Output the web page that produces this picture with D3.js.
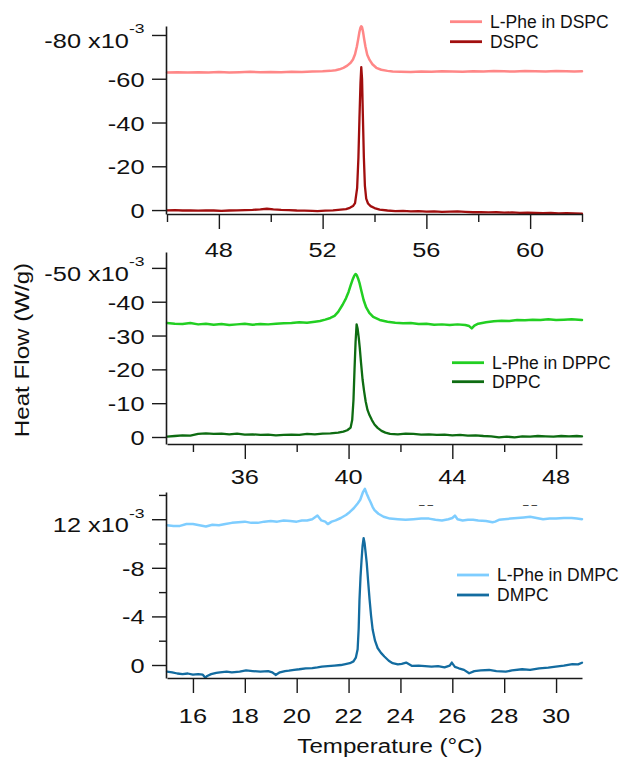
<!DOCTYPE html>
<html><head><meta charset="utf-8">
<script src="https://cdn.jsdelivr.net/npm/d3@7"></script>
<style>
body{margin:0;background:#fff}
svg{display:block;background:#fff}
text{font-family:"Liberation Sans",Arial,Helvetica,sans-serif;fill:#111}
</style>
</head><body><svg id="c" width="620" height="757"></svg>
<script>
// ---------------- DATA ----------------
// Top panel: DSPC (temperature °C, heat flow x10^-3 W/g)
const dspc = [[46.0,0.1],[46.3,0.0],[46.6,0.2],[46.9,0.1],[47.2,0.3],[47.5,0.1],[47.8,0.2],[48.1,0.4],[48.4,0.2],[48.7,0.1],[49.0,0.0],[49.3,-0.1],[49.6,-0.3],[49.85,-0.6],[50.1,-0.3],[50.4,-0.1],[50.7,0.0],[51.0,0.2],[51.3,0.3],[51.6,0.4],[51.8,0.5],[52.1,0.3],[52.4,0.1],[52.7,-0.2],[52.9,-0.4],[53.05,-1.0],[53.17,-1.8],[53.25,-3.2],[53.33,-10],[53.38,-24],[53.42,-42],[53.46,-58],[53.49,-65.3],[53.52,-60],[53.55,-44],[53.59,-24],[53.63,-11],[53.68,-5.2],[53.75,-3],[53.85,-1.8],[54.0,-0.9],[54.2,-0.2],[54.5,0.2],[54.8,0.5],[55.1,0.4],[55.4,0.6],[55.7,0.5],[56.0,0.7],[56.3,0.6],[56.6,0.8],[56.9,0.7],[57.2,0.6],[57.5,0.8],[57.8,1.0],[58.1,0.9],[58.4,1.1],[58.7,1.0],[59.0,1.2],[59.3,1.1],[59.6,1.3],[59.9,1.2],[60.2,1.3],[60.5,1.4],[60.8,1.3],[61.1,1.5],[61.4,1.4],[61.7,1.5],[62.0,1.6]];
const phe_dspc = [[46.0,-62.9],[46.4,-63.0],[46.8,-62.8],[47.2,-63.0],[47.6,-62.9],[48.0,-63.1],[48.4,-62.9],[48.8,-63.0],[49.2,-63.2],[49.6,-63.0],[50.0,-63.1],[50.4,-63.0],[50.8,-63.2],[51.2,-63.1],[51.6,-63.3],[52.0,-63.4],[52.3,-63.6],[52.5,-63.9],[52.65,-64.3],[52.8,-65.0],[52.95,-66.0],[53.08,-67.3],[53.17,-68.8],[53.25,-71.2],[53.32,-74.7],[53.37,-78.0],[53.42,-81.5],[53.46,-83.4],[53.49,-84.0],[53.52,-83.5],[53.56,-81.3],[53.6,-78.2],[53.65,-74.7],[53.72,-71.0],[53.81,-68.6],[53.92,-66.6],[54.07,-65.0],[54.26,-64.1],[54.5,-63.6],[54.7,-63.3],[55.0,-63.2],[55.4,-63.1],[55.8,-63.3],[56.2,-63.2],[56.6,-63.4],[57.0,-63.3],[57.4,-63.2],[57.8,-63.4],[58.2,-63.3],[58.6,-63.5],[59.0,-63.4],[59.4,-63.3],[59.8,-63.5],[60.2,-63.4],[60.6,-63.3],[61.0,-63.5],[61.4,-63.4],[61.7,-63.3],[62.0,-63.4]];
// Middle panel: DPPC
const dppc = [[33.0,-0.1],[33.3,-0.3],[33.6,-0.5],[33.9,-0.4],[34.2,-0.9],[34.5,-1.1],[34.8,-0.9],[35.1,-1.0],[35.4,-0.8],[35.7,-1.0],[36.0,-0.7],[36.3,-0.8],[36.6,-0.6],[36.9,-0.7],[37.2,-0.5],[37.5,-0.6],[37.8,-0.7],[38.1,-0.6],[38.4,-0.9],[38.7,-0.8],[39.0,-1.0],[39.3,-1.1],[39.6,-1.3],[39.8,-1.6],[39.95,-2.0],[40.08,-2.8],[40.14,-5],[40.19,-11],[40.23,-20],[40.27,-28],[40.31,-33.3],[40.35,-32],[40.39,-29.5],[40.43,-26.5],[40.48,-22],[40.54,-17],[40.6,-13.5],[40.66,-10.5],[40.73,-8],[40.81,-6.4],[40.9,-5],[41.0,-3.7],[41.12,-2.7],[41.27,-1.8],[41.42,-1.3],[41.6,-0.9],[41.9,-0.8],[42.2,-1.0],[42.5,-0.9],[42.8,-0.7],[43.1,-0.8],[43.4,-0.6],[43.7,-0.7],[44.0,-0.5],[44.3,-0.6],[44.6,-0.4],[44.9,-0.5],[45.2,-0.3],[45.5,-0.2],[45.8,0.1],[46.1,-0.1],[46.4,0.1],[46.7,-0.2],[47.0,-0.1],[47.3,-0.3],[47.6,-0.2],[47.9,-0.1],[48.2,-0.3],[48.5,-0.2],[48.8,-0.3],[49.0,-0.2]];
const phe_dppc = [[33.0,-33.7],[33.3,-33.5],[33.6,-33.4],[33.9,-33.7],[34.2,-33.3],[34.5,-33.5],[34.8,-33.2],[35.1,-33.4],[35.4,-33.1],[35.7,-33.3],[36.0,-33.5],[36.3,-33.2],[36.6,-33.4],[36.9,-33.3],[37.2,-33.5],[37.5,-33.6],[37.8,-33.7],[38.1,-33.9],[38.4,-33.8],[38.7,-34.1],[38.9,-34.3],[39.1,-34.7],[39.3,-35.2],[39.46,-35.8],[39.6,-37],[39.77,-39.1],[39.9,-41],[40.0,-42.9],[40.08,-44.8],[40.15,-46.4],[40.22,-47.7],[40.27,-48.2],[40.32,-47.8],[40.37,-46.8],[40.42,-45.6],[40.5,-43],[40.58,-40.5],[40.68,-38.3],[40.8,-36.7],[40.95,-35.5],[41.2,-34.6],[41.5,-34.1],[41.8,-33.8],[42.1,-33.6],[42.4,-33.7],[42.7,-33.4],[43.0,-33.5],[43.3,-33.2],[43.6,-33.3],[43.9,-33.1],[44.2,-33.3],[44.5,-33.1],[44.65,-32.8],[44.75,-32.1],[44.85,-32.9],[45.0,-33.5],[45.3,-33.9],[45.6,-34.2],[45.9,-34.4],[46.2,-34.3],[46.5,-34.6],[46.8,-34.5],[47.1,-34.7],[47.4,-34.6],[47.7,-34.8],[48.0,-34.6],[48.3,-34.7],[48.6,-34.8],[49.0,-34.6]];
// Bottom panel: DMPC
const dmpc = [[15.0,0.55],[15.2,0.6],[15.4,0.7],[15.6,0.75],[15.8,0.7],[16.0,0.8],[16.2,0.75],[16.38,0.8],[16.48,1.05],[16.55,0.9],[16.7,0.75],[16.9,0.65],[17.04,0.6],[17.3,0.55],[17.5,0.6],[17.8,0.55],[18.05,0.45],[18.3,0.5],[18.6,0.55],[18.9,0.5],[19.06,0.6],[19.19,0.82],[19.35,0.6],[19.55,0.5],[19.7,0.47],[19.9,0.4],[20.1,0.35],[20.35,0.27],[20.6,0.25],[20.8,0.2],[20.97,0.14],[21.2,0.1],[21.45,0.05],[21.7,0.0],[21.88,-0.08],[22.05,-0.15],[22.19,-0.3],[22.28,-0.6],[22.35,-1.3],[22.39,-3.0],[22.42,-5.3],[22.46,-7.2],[22.5,-8.6],[22.54,-9.8],[22.58,-10.45],[22.62,-10.0],[22.66,-9.2],[22.7,-8.4],[22.75,-7.0],[22.81,-5.4],[22.87,-4.0],[22.93,-2.9],[23.02,-2.0],[23.12,-1.4],[23.25,-1.0],[23.38,-0.7],[23.55,-0.35],[23.7,-0.15],[23.9,-0.05],[24.05,-0.1],[24.22,-0.2],[24.45,0.08],[24.7,0.05],[24.95,0.1],[25.2,0.14],[25.45,0.1],[25.7,0.2],[25.9,0.05],[25.98,-0.2],[26.1,0.15],[26.25,0.27],[26.45,0.4],[26.65,0.68],[26.85,0.5],[27.1,0.45],[27.42,0.41],[27.7,0.5],[28.06,0.55],[28.3,0.45],[28.69,0.35],[29.0,0.4],[29.35,0.27],[29.7,0.22],[29.99,0.14],[30.3,0.05],[30.63,-0.08],[30.85,-0.05],[31.0,-0.19]];
const phe_dmpc = [[15.0,-11.5],[15.25,-11.45],[15.5,-11.45],[15.75,-11.6],[16.0,-11.6],[16.25,-11.5],[16.5,-11.4],[16.75,-11.55],[17.0,-11.5],[17.25,-11.6],[17.5,-11.7],[17.75,-11.75],[18.0,-11.8],[18.25,-11.7],[18.5,-11.7],[18.75,-11.8],[19.0,-11.85],[19.25,-11.8],[19.5,-11.9],[19.75,-11.85],[20.0,-11.8],[20.2,-11.9],[20.4,-11.9],[20.6,-12.0],[20.8,-12.3],[20.95,-11.9],[21.1,-11.8],[21.2,-11.6],[21.35,-11.8],[21.5,-11.9],[21.7,-12.1],[21.9,-12.35],[22.05,-12.6],[22.2,-12.9],[22.35,-13.3],[22.45,-13.6],[22.55,-14.2],[22.63,-14.5],[22.7,-14.1],[22.78,-13.7],[22.85,-13.4],[22.93,-13.0],[23.0,-12.75],[23.15,-12.45],[23.35,-12.2],[23.6,-12.05],[23.9,-12.0],[24.2,-11.95],[24.5,-12.0],[24.8,-12.05],[25.1,-12.05],[25.35,-11.95],[25.6,-11.9],[25.85,-12.0],[26.0,-12.1],[26.1,-12.3],[26.2,-12.0],[26.4,-11.9],[26.6,-11.95],[26.8,-11.95],[27.0,-11.9],[27.3,-11.85],[27.55,-11.75],[27.65,-11.8],[27.8,-11.95],[28.0,-12.0],[28.25,-12.05],[28.5,-12.1],[28.75,-12.15],[29.0,-12.2],[29.25,-12.1],[29.5,-12.0],[29.75,-12.05],[30.0,-12.05],[30.3,-12.1],[30.6,-12.1],[30.8,-12.05],[31.0,-12.0]];

// Ticks and labels
const topXMajor = [48,52,56,60], topXMinor = [46,50,54,58,62];
const topYTicks = [-80,-60,-40,-20,0], topYLabels = ["-80","-60","-40","-20","0"], topYMinor = [];
const midXMajor = [36,40,44,48], midXMinor = [34,38,42,46];
const midYTicks = [-50,-40,-30,-20,-10,0], midYLabels = ["-50","-40","-30","-20","-10","0"], midYMinor = [];
const botXMajor = [16,18,20,22,24,26,28,30], botXMinor = [];
const botYTicks = [-12,-8,-4,0], botYLabels = ["12","-8","-4","0"], botYMinor = [-14,-10,-6,-2];
const expMain = " x10", expSup = "-3";
const xTitle = "Temperature (°C)", yTitle = "Heat Flow (W/g)";
const topNames = ["L-Phe in DSPC","DSPC"], midNames = ["L-Phe in DPPC","DPPC"], botNames = ["L-Phe in DMPC","DMPC"];
const strayMarks = ["– –","– –"];

// ---------------- LAYOUT / STYLE ----------------
const X0 = 167, X1 = 582, YAX = 166;
const panels = [
  {xDom:[46,62], yDom:[1.8,-84.1], yTop:26, yBot:214, xMaj:topXMajor, xMin:topXMinor, yT:topYTicks, yL:topYLabels, yMin:topYMinor,
   series:[phe_dspc,dspc], names:topNames, colors:["#FF8787","#A10E0E"], legX:450, legY:[21.7,41.7], xLabOff:43},
  {xDom:[33,49], yDom:[2.07,-54.7], yTop:252, yBot:444, xMaj:midXMajor, xMin:midXMinor, yT:midYTicks, yL:midYLabels, yMin:midYMinor,
   series:[phe_dppc,dppc], names:midNames, colors:["#22CF22","#0E6C12"], legX:452, legY:[362.7,381.7], xLabOff:40},
  {xDom:[15,31], yDom:[1.07,-14.24], yTop:492, yBot:678, xMaj:botXMajor, xMin:botXMinor, yT:botYTicks, yL:botYLabels, yMin:botYMinor,
   series:[phe_dmpc,dmpc], names:botNames, colors:["#7ECDFF","#136CA0"], legX:457, legY:[575,595], xLabOff:45}
];
const TICK_FS = 19.5, TICK_SX = 1.3;

const svg = d3.select("#c");
svg.append("rect").attr("width",620).attr("height",757).attr("fill","#fff");

function stext(g, x, y, str, size, anchor, sx){
  return g.append("text").attr("transform",`translate(${x},${y}) scale(${sx},1)`)
    .attr("text-anchor",anchor).attr("font-size",size).text(str);
}

panels.forEach(p=>{
  const x = d3.scaleLinear().domain(p.xDom).range([X0,X1]);
  const y = d3.scaleLinear().domain(p.yDom).range([p.yBot,p.yTop]);
  const g = svg.append("g");

  // data lines
  const line = d3.line().x(d=>x(d[0])).y(d=>y(d[1])).curve(d3.curveLinear);
  p.series.forEach((s,i)=>{
    g.append("path").datum(s).attr("d",line).attr("fill","none")
      .attr("stroke",p.colors[i]).attr("stroke-width",i===0?2.5:2.3)
      .attr("stroke-linejoin","round").attr("stroke-linecap","round");
  });

  // x axis (major + minor)
  g.append("g").attr("transform",`translate(0,${p.yBot})`)
    .call(d3.axisBottom(x).tickValues(p.xMaj).tickSize(15).tickSizeOuter(0).tickFormat(""));
  if (p.xMin.length) g.append("g").attr("transform",`translate(0,${p.yBot})`)
    .call(d3.axisBottom(x).tickValues(p.xMin).tickSize(8).tickSizeOuter(0).tickFormat(""))
    .select(".domain").remove();
  // y axis
  g.append("g").attr("transform",`translate(${YAX},0)`)
    .call(d3.axisLeft(y).tickValues(p.yT).tickSize(14).tickSizeOuter(0).tickFormat(""));
  if (p.yMin.length) g.append("g").attr("transform",`translate(${YAX},0)`)
    .call(d3.axisLeft(y).tickValues(p.yMin).tickSize(7).tickSizeOuter(0).tickFormat(""))
    .select(".domain").remove();
  g.selectAll(".domain").attr("stroke","#1a1a1a").attr("stroke-width",1.6);
  g.selectAll(".tick line").attr("stroke","#1a1a1a").attr("stroke-width",1.4);

  // x tick labels
  p.xMaj.forEach(v=>{ stext(g, x(v), p.yBot+p.xLabOff, String(v), TICK_FS, "middle", TICK_SX); });
  // y tick labels
  p.yT.forEach((v,i)=>{
    const lab = p.yL[i];
    if (i===0){
      const t = g.append("text").attr("transform",`translate(144.5,${y(v)+13}) scale(${TICK_SX},1)`)
        .attr("text-anchor","end").attr("font-size",TICK_FS);
      t.append("tspan").text(lab+expMain);
      t.append("tspan").attr("font-size",13.5).attr("dy",-14.5).text(expSup);
    } else {
      stext(g, 144.5, y(v)+8, lab, TICK_FS, "end", TICK_SX);
    }
  });

  // legend
  p.names.forEach((n,i)=>{
    g.append("line").attr("x1",p.legX).attr("x2",p.legX+32).attr("y1",p.legY[i]).attr("y2",p.legY[i])
      .attr("stroke",p.colors[i]).attr("stroke-width",2.8);
    g.append("text").attr("x",p.legX+40).attr("y",p.legY[i]+6.3).attr("font-size",17.5).text(n);
  });
});

// stray grey marks in bottom panel
stext(svg, 426, 508, strayMarks[0], 10, "middle", 1).attr("fill","#bdbdbd");
stext(svg, 530, 508, strayMarks[1], 10, "middle", 1).attr("fill","#bdbdbd");

// axis titles
svg.append("text").attr("transform","translate(390,753) scale(1.15,1)")
  .attr("text-anchor","middle").attr("font-size",21).text(xTitle);
svg.append("text").attr("transform","translate(29,350) rotate(-90) scale(1.15,1)")
  .attr("text-anchor","middle").attr("font-size",21).text(yTitle);
</script>
</body></html>
